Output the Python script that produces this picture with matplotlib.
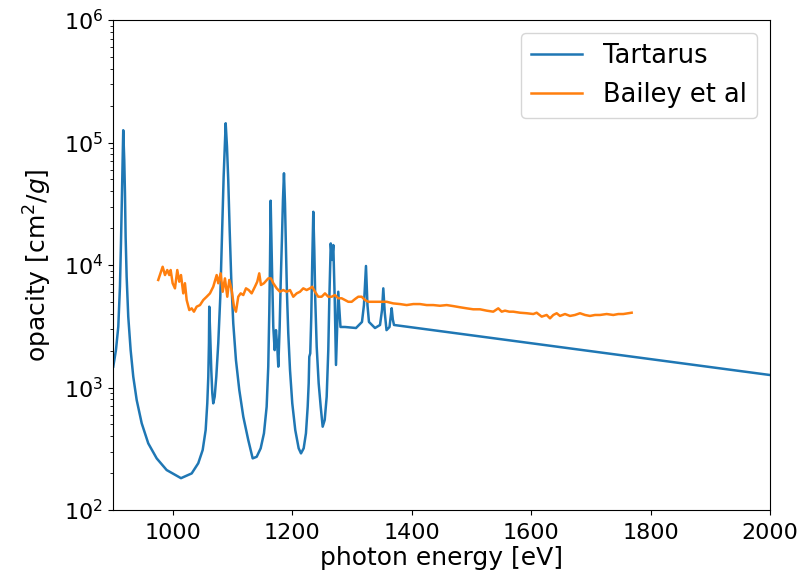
import matplotlib
matplotlib.use('Agg')
import matplotlib.pyplot as plt
import numpy as np

# Tartarus model opacity
tart_energy = [900.5, 905.0, 908.9, 911.7, 913.4, 915.1, 916.2, 917.2, 918.9, 920.1,
               921.2, 922.9, 925.6, 929.6, 934.0, 939.7, 948.1, 959.1, 973.2, 989.9,
               1013.9, 1031.8, 1042.8, 1050.2, 1055.2, 1057.9, 1059.6, 1060.7, 1061.2, 1062.9,
               1064.6, 1066.3, 1067.9, 1070.3, 1073.0, 1076.3, 1079.7, 1082.5, 1085.3, 1088.7,
               1090.9, 1093.0, 1095.4, 1098.1, 1101.4, 1105.9, 1111.5, 1118.2, 1126.5, 1133.9,
               1140.6, 1147.3, 1152.8, 1157.3, 1160.0, 1161.7, 1162.9, 1164.0, 1166.2, 1168.4,
               1170.7, 1172.9, 1175.1, 1176.8, 1179.1, 1180.8, 1183.0, 1184.6, 1186.3, 1188.0,
               1189.7, 1191.3, 1193.5, 1196.4, 1200.2, 1205.2, 1210.9, 1214.8, 1219.3, 1223.1,
               1226.0, 1227.7, 1228.7, 1230.3, 1232.0, 1233.7, 1235.4, 1237.1, 1238.7, 1241.1,
               1244.4, 1247.8, 1251.1, 1254.5, 1257.8, 1260.5, 1262.2, 1264.6, 1266.8, 1268.9,
               1271.3, 1273.4, 1277.2, 1280.9, 1288.4, 1306.9, 1316.9, 1320.2, 1323.6, 1326.1,
               1328.6, 1338.7, 1347.1, 1350.5, 1352.6, 1355.0, 1358.0, 1363.0, 1366.6, 1368.5,
               1370.5, 2000.0]
tart_opacity = [1480, 2020, 3130, 6650, 15000, 38500, 72000, 126000, 72000, 38500,
                17000, 8020, 3790, 2020, 1225, 791, 511, 350, 264, 212,
                182, 199, 241, 309, 450, 743, 1225, 2300, 4570, 2600,
                1390, 898, 743, 841, 1225, 2300, 5510, 17000, 52600, 143600,
                92500, 49400, 19300, 7550, 3340, 1675, 955, 578, 373, 264,
                272, 319, 423, 697, 1480, 4040, 10300, 33500, 9680, 3130,
                2020, 2940, 2150, 1480, 3130, 7100, 17000, 34000, 56100, 31900,
                13200, 5870, 2770, 1390, 743, 450, 319, 290, 319, 423,
                697, 1082, 1782, 1900, 3790, 11000, 27200, 13200, 5180, 2150,
                1082, 697, 479, 543, 841, 2020, 5180, 15000, 11000, 14550,
                5180, 1528, 6050, 3120, 3120, 3060, 3430, 4710, 9820, 4710,
                3430, 3060, 3240, 4300, 6450, 4100, 2940, 3120, 4440, 3600,
                3240, 1265]

# Bailey et al measurement
bailey_energy = [975.8, 983.2, 987.1, 990.9, 994.3, 996.6, 999.9, 1003.8, 1007.7, 1011.0,
                 1013.9, 1017.7, 1020.5, 1023.4, 1027.8, 1031.8, 1035.6, 1040.1, 1045.7, 1051.2,
                 1056.9, 1062.4, 1067.9, 1073.6, 1076.3, 1080.3, 1083.7, 1087.5, 1091.4, 1094.7,
                 1098.7, 1102.6, 1105.9, 1109.8, 1113.8, 1118.2, 1122.7, 1127.2, 1132.2, 1137.7,
                 1141.6, 1144.9, 1147.8, 1152.8, 1160.0, 1164.5, 1168.4, 1174.1, 1179.6, 1185.1,
                 1190.8, 1196.4, 1201.9, 1207.6, 1213.1, 1218.6, 1224.3, 1229.8, 1233.7, 1238.2,
                 1243.7, 1249.4, 1255.0, 1260.5, 1266.2, 1271.7, 1277.2, 1282.9, 1288.4, 1294.0,
                 1299.7, 1305.2, 1310.7, 1316.4, 1321.9, 1327.5, 1335.8, 1344.2, 1352.6, 1358.3,
                 1369.3, 1380.5, 1391.7, 1402.8, 1414.0, 1425.2, 1436.3, 1447.5, 1458.7, 1469.8,
                 1481.0, 1492.2, 1503.2, 1514.5, 1525.7, 1536.7, 1545.1, 1550.8, 1556.3, 1563.5,
                 1570.2, 1581.4, 1592.6, 1603.7, 1609.4, 1617.8, 1626.1, 1631.7, 1637.2, 1642.9,
                 1648.4, 1656.8, 1665.2, 1673.5, 1681.9, 1690.3, 1698.6, 1707.0, 1715.4, 1726.6,
                 1737.6, 1746.0, 1754.4, 1762.8, 1768.4]
bailey_opacity = [7550, 9680, 8280, 9100, 8280, 9100, 7100, 6450, 9100, 7310,
                  8280, 5870, 7100, 5180, 4290, 4430, 4160, 4570, 4710, 5180,
                  5510, 5870, 6650, 8280, 7100, 8550, 6050, 7780, 5510, 7550,
                  6250, 4570, 4160, 5510, 5870, 5690, 6450, 6250, 5870, 6650,
                  7310, 8550, 6870, 7100, 7780, 7780, 7100, 6450, 6050, 6250,
                  6050, 6250, 5510, 5870, 6050, 6450, 6250, 6450, 6650, 6050,
                  5510, 5510, 5870, 5510, 5510, 5690, 5350, 5350, 5180, 5010,
                  5010, 5270, 5510, 5510, 5180, 5010, 5010, 5010, 5010, 5010,
                  4860, 4800, 4710, 4800, 4800, 4710, 4710, 4650, 4710, 4620,
                  4520, 4430, 4350, 4350, 4240, 4160, 4430, 4160, 4240, 4160,
                  4160, 4080, 4040, 3980, 4080, 3790, 3910, 3670, 3910, 4040,
                  3840, 3980, 3840, 3910, 4040, 3910, 3840, 3910, 3910, 3980,
                  3910, 3980, 3980, 4040, 4080]

plt.rcParams['font.size'] = 18

fig = plt.figure(figsize=(8.04, 5.78), dpi=100)
ax = fig.add_axes([0.1405, 0.1176, 0.8172, 0.8478])
ax.plot(tart_energy, tart_opacity, color='#1f77b4', lw=1.8, label='Tartarus')
ax.plot(bailey_energy, bailey_opacity, color='#ff7f0e', lw=1.8, label='Bailey et al')
ax.set_yscale('log')
ax.set_xlim(900, 2000)
ax.set_ylim(1e2, 1e6)
ax.tick_params(labelsize=16)
ax.tick_params(axis='x', pad=6)
ax.set_xlabel('photon energy [eV]', fontsize=18, labelpad=2)
ax.set_ylabel(r'opacity [cm$^2/g$]', fontsize=18, labelpad=7)
ax.legend(loc='upper right', fontsize=18.5)

fig.savefig('out.png', dpi=100)
